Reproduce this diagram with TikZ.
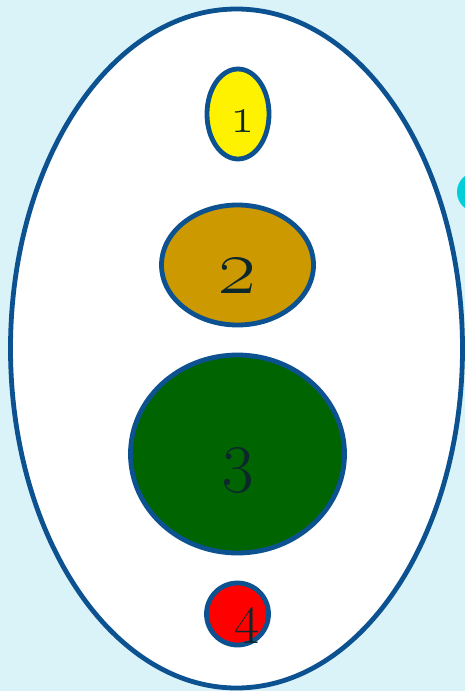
\RequirePackage{fix-cm}
\documentclass[tikz,border=0pt]{standalone}
\usetikzlibrary{shapes.geometric}
\definecolor{bgcyan}{RGB}{218,243,248}
\definecolor{edgeblue}{RGB}{12,82,145}
\definecolor{gold}{RGB}{204,153,0}
\definecolor{dgreen}{RGB}{0,100,0}
\definecolor{turq}{RGB}{0,206,216}
\definecolor{numcol}{RGB}{12,40,44}
\tikzset{
  blob/.style={ellipse, draw=edgeblue, line width=4.8pt, inner sep=0pt},
  num/.style={anchor=base, text=numcol, inner sep=0pt}
}
\begin{document}
\begin{tikzpicture}[x=1pt,y=-1pt]
\fill[bgcyan] (0,0) rectangle (465,691);
\useasboundingbox (0,0) rectangle (465,691);
\node[circle, fill=turq, minimum size=40pt, inner sep=0pt] (dot) at (477,192) {};
\node[blob, fill=white, minimum width=452pt, minimum height=679pt] (outer) at (236.5,348.5) {};
\node[blob, fill=yellow, minimum width=62pt, minimum height=90pt] (e1) at (238,114) {};
\node[blob, fill=gold, minimum width=152pt, minimum height=120pt] (e2) at (237.5,265) {};
\node[blob, fill=dgreen, minimum width=214pt, minimum height=198pt] (e3) at (237.5,454) {};
\node[blob, fill=red, minimum width=62pt, minimum height=62pt] (e4) at (237.5,614) {};
\node[num, font=\fontsize{51}{51}\selectfont\bfseries] (t1) at (242,132) {\oldstylenums{1}};
\node[num, font=\fontsize{81}{81}\selectfont\bfseries] (t2) at (237.5,293) {\oldstylenums{2}};
\node[num, font=\fontsize{70}{70}\selectfont] (t3) at (237.5,478) {\oldstylenums{3}};
\node[num, font=\fontsize{55}{55}\selectfont] (t4) at (247,632) {\oldstylenums{4}};
\end{tikzpicture}
\end{document}
